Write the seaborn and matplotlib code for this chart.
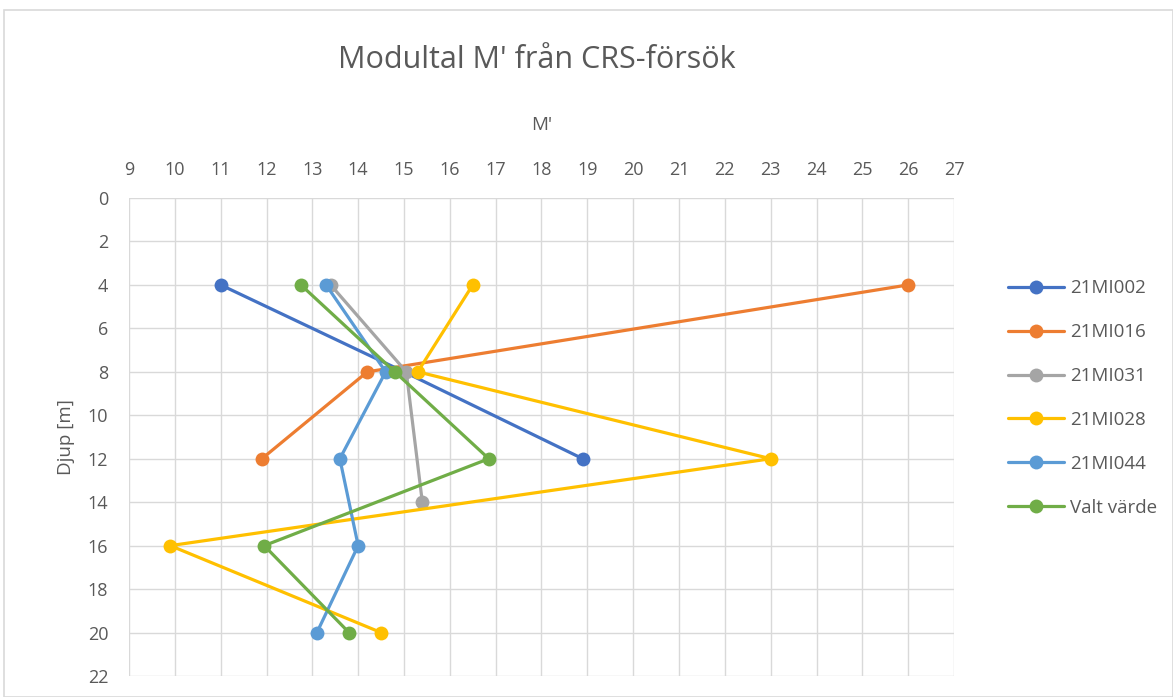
import pandas as pd
import matplotlib.pyplot as plt
import matplotlib.patches as mpatches
import seaborn as sns

# --- DATA ---
series_names = ['21MI002', '21MI016', '21MI031', '21MI028', '21MI044', 'Valt värde']

mi002_m = [11.0, 15.0, 18.9]
mi002_d = [4, 8, 12]

mi016_m = [26.0, 14.2, 11.9]
mi016_d = [4, 8, 12]

mi031_m = [13.4, 15.05, 15.4]
mi031_d = [4, 8, 14]

mi028_m = [16.5, 15.3, 23.0, 9.9, 14.5]
mi028_d = [4, 8, 12, 16, 20]

mi044_m = [13.3, 14.6, 13.6, 14.0, 13.1]
mi044_d = [4, 8, 12, 16, 20]

valt_m = [12.75, 14.8, 16.85, 11.95, 13.8]
valt_d = [4, 8, 12, 16, 20]

colors = ['#4472C4', '#ED7D31', '#A5A5A5', '#FFC000', '#5B9BD5', '#70AD47']

x_ticks = list(range(9, 28))
y_ticks = list(range(0, 23, 2))

rows = []
for name, ms, ds in zip(series_names,
                        [mi002_m, mi016_m, mi031_m, mi028_m, mi044_m, valt_m],
                        [mi002_d, mi016_d, mi031_d, mi028_d, mi044_d, valt_d]):
    for m, d in zip(ms, ds):
        rows.append({'serie': name, 'M': m, 'djup': d})
df = pd.DataFrame(rows)

# --- STYLE ---
sns.set_theme(style="white")
plt.rcParams['font.family'] = ['Open Sans', 'DejaVu Sans']
text_color = '#595959'
grid_color = '#D9D9D9'

fig = plt.figure(figsize=(11.73, 6.97), dpi=100)
ax = fig.add_axes([129 / 1173, 1 - 676 / 697, (954 - 129) / 1173, (676 - 198) / 697])

sns.lineplot(data=df, x='M', y='djup', hue='serie', hue_order=series_names,
             palette=colors, sort=False, estimator=None, marker='o',
             markersize=10, markeredgewidth=0, linewidth=2.3, ax=ax)

ax.set_xlim(9, 27)
ax.set_ylim(22, 0)
ax.set_xticks(x_ticks)
ax.set_yticks(y_ticks)
ax.xaxis.tick_top()
ax.xaxis.set_label_position('top')
ax.tick_params(axis='both', length=0, labelsize=13, labelcolor=text_color)
ax.tick_params(axis='x', pad=14)
ax.tick_params(axis='y', pad=15)
ax.grid(True, color=grid_color, linewidth=1)
ax.set_axisbelow(True)
for s in ax.spines.values():
    s.set_visible(False)

ax.set_xlabel("M'", fontsize=13.5, color=text_color, labelpad=22)
ax.set_ylabel("Djup [m]", fontsize=13.5, color=text_color, labelpad=9)

fig.text(0.458, 0.914, "Modultal M' från CRS-försök", ha='center', va='center',
         fontsize=22, color=text_color)

leg = ax.legend(loc='upper left', bbox_to_anchor=(1.045, 0.865), frameon=False,
                fontsize=13.5, labelspacing=1.38, handlelength=3.0, handletextpad=0.3)
for t in leg.get_texts():
    t.set_color(text_color)

# ram runt figuren
fig.patches.append(mpatches.Rectangle((4 / 1173, 0), 1 - 4 / 1173, 1 - 10 / 697,
                                      transform=fig.transFigure, fill=False,
                                      edgecolor=grid_color, linewidth=1.2))

fig.savefig('out.png', dpi=100)
